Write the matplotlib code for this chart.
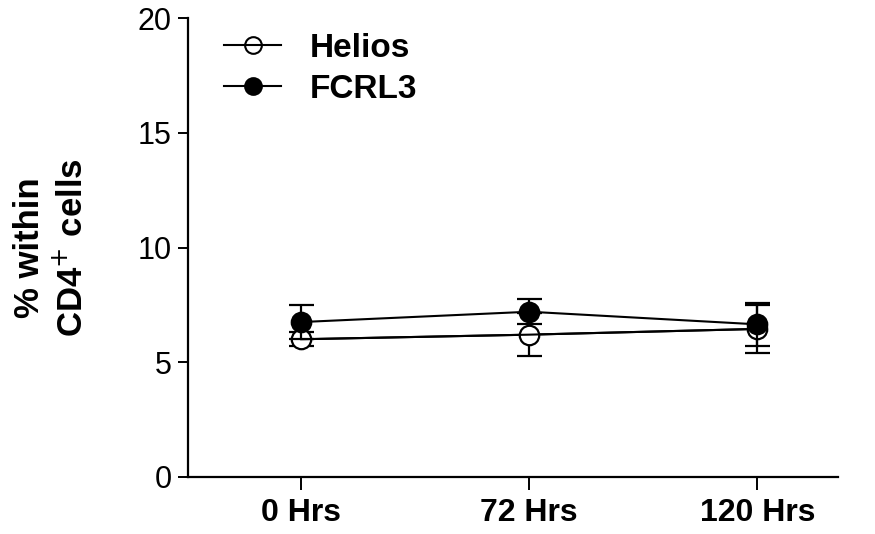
import matplotlib
matplotlib.use("Agg")
import matplotlib.pyplot as plt
from matplotlib.lines import Line2D
import numpy as np

plt.rcParams["font.family"] = ["Liberation Sans", "DejaVu Sans"]

categories = ["0 Hrs", "72 Hrs", "120 Hrs"]
helios_mean = [6.0, 6.2, 6.45]
helios_err = [0.3, 0.93, 1.05]
fcrl3_mean = [6.75, 7.2, 6.65]
fcrl3_err = [0.75, 0.55, 0.95]

x = np.arange(len(categories))

fig = plt.figure(figsize=(8.75, 5.34), dpi=100)
ax = fig.add_axes([0.215, 0.107, 0.743, 0.859])

common = dict(color="black", linewidth=1.5, markersize=14, capsize=9,
              elinewidth=1.6, capthick=1.6, markeredgewidth=1.6)
ax.errorbar(x, helios_mean, yerr=helios_err, marker="o", markerfacecolor="white",
            zorder=3, **common)
# connecting line drawn over the open circles, as in the original
ax.plot(x, helios_mean, color="black", linewidth=1.5, zorder=3.5)
ax.errorbar(x, fcrl3_mean, yerr=fcrl3_err, marker="o", markerfacecolor="black",
            zorder=4, **common)

ax.set_xlim(-0.496, 2.355)
ax.set_ylim(0, 20)
ax.set_yticks([0, 5, 10, 15, 20])
ax.set_xticks(x)
ax.set_xticklabels(categories, fontweight="bold", fontsize=23)
ax.tick_params(axis="y", labelsize=22, length=7, width=1.4, direction="out", pad=5)
ax.tick_params(axis="x", length=9, width=1.4, direction="out", pad=6)

for side in ["top", "right"]:
    ax.spines[side].set_visible(False)
for side in ["left", "bottom"]:
    ax.spines[side].set_linewidth(1.6)

ax.set_ylabel("% within\nCD4$^{+}$ cells", fontsize=25, fontweight="bold",
              linespacing=1.3)
ax.yaxis.set_label_coords(-0.152, 0.5)

line_h = Line2D([], [], color="black", linewidth=1.5)
handles = [
    (Line2D([], [], linestyle="none", marker="o", markersize=12, color="black",
            markerfacecolor="white", markeredgewidth=1.5), line_h),
    (Line2D([], [], linestyle="none", marker="o", markersize=12, color="black",
            markerfacecolor="black", markeredgewidth=1.5), line_h),
]
ax.legend(handles, ["Helios", "FCRL3"], loc="upper left", bbox_to_anchor=(0.03, 1.005),
          frameon=False, prop={"weight": "bold", "size": 24}, handlelength=1.7,
          labelspacing=0.3, handletextpad=0.85, borderpad=0)

fig.savefig("out.png", dpi=100)
